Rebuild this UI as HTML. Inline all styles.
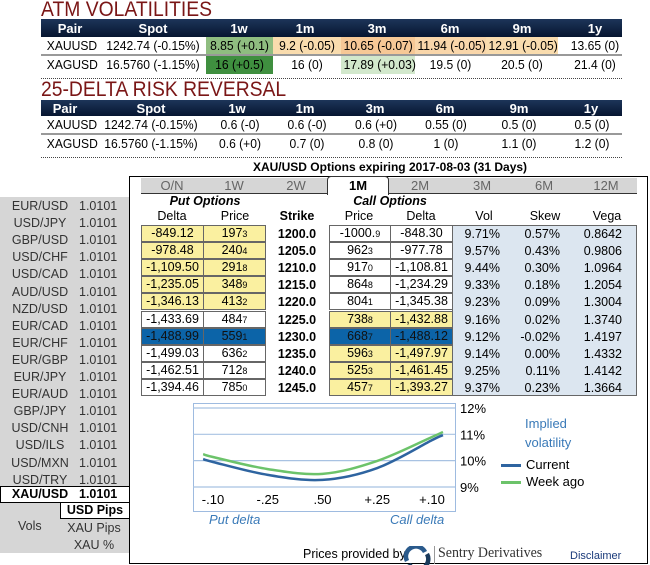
<!DOCTYPE html>
<html><head><meta charset="utf-8">
<style>
*{box-sizing:border-box;margin:0;padding:0}
body{width:650px;height:565px;overflow:hidden;background:#fff;font-family:"Liberation Sans",Arial,sans-serif;position:relative;color:#000}
.abs{position:absolute}
.title{position:absolute;left:41px;font-size:21px;color:#7a1616;line-height:20px;transform:scaleX(0.92);transform-origin:left top;white-space:nowrap}
.hdr{position:absolute;left:41px;width:581px;background:linear-gradient(#1d3559,#061530);color:#fff;font-weight:bold;font-size:13px}
.c{position:absolute;text-align:center;white-space:nowrap}
.row .c{transform:scaleX(0.93)}
.row{position:absolute;left:41px;width:581px;font-size:13px;border-bottom:2px solid #999}
.dots{position:absolute;left:41px;width:581px;border-top:1px dotted #444}
.side{position:absolute;left:0;top:197px;width:129px;height:356px;background:#d6d6d6}
.sr{position:absolute;font-size:12.5px;color:#333;white-space:nowrap;height:17px}
.sr span{position:absolute;top:0}
.cell{position:absolute;height:17px;border:1px solid #666;font-size:12.5px;text-align:center;line-height:15px}
.y{background:#faf0a0}
.sel{background:#0c64a8;color:#111}
.sm{font-size:9px}
</style></head><body>

<div class="title" style="top:0">ATM VOLATILITIES</div>
<div class="hdr" style="top:19px;height:18px">
 <span class="c" style="left:9px;width:40px;top:2px">Pair</span><span class="c" style="left:87px;width:50px;top:2px">Spot</span><span class="c" style="left:178px;width:40px;top:2px">1w</span><span class="c" style="left:244px;width:40px;top:2px">1m</span><span class="c" style="left:316px;width:40px;top:2px">3m</span><span class="c" style="left:389px;width:40px;top:2px">6m</span><span class="c" style="left:461px;width:40px;top:2px">9m</span><span class="c" style="left:534px;width:40px;top:2px">1y</span>
</div>
<div class="row" style="top:37px;height:19px">
 <div class="abs" style="left:165px;width:67px;height:17px;background:#8fbd80"></div>
 <div class="abs" style="left:232px;width:68px;height:17px;background:#f9dcae"></div>
 <div class="abs" style="left:300px;width:74px;height:17px;background:#f6c896"></div>
 <div class="abs" style="left:374px;width:71px;height:17px;background:#f9d6aa"></div>
 <div class="abs" style="left:445px;width:72px;height:17px;background:#f9dcae"></div>
 <span class="c" style="left:4px;width:50px;top:1px">XAUUSD</span><span class="c" style="left:60px;width:104px;top:1px">1242.74 (-0.15%)</span><span class="c" style="left:165px;width:67px;top:1px">8.85 (+0.1)</span><span class="c" style="left:232px;width:68px;top:1px">9.2 (-0.05)</span><span class="c" style="left:300px;width:74px;top:1px">10.65 (-0.07)</span><span class="c" style="left:374px;width:71px;top:1px">11.94 (-0.05)</span><span class="c" style="left:445px;width:72px;top:1px">12.91 (-0.05)</span><span class="c" style="left:520px;width:68px;top:1px">13.65 (0)</span>
</div>
<div class="row" style="top:56px;height:18px;border:none">
 <div class="abs" style="left:165px;width:67px;height:18px;background:#3f8f3f"></div>
 <div class="abs" style="left:300px;width:74px;height:18px;background:#d2e8cc"></div>
 <span class="c" style="left:4px;width:50px;top:1px">XAGUSD</span><span class="c" style="left:60px;width:104px;top:1px">16.5760 (-1.15%)</span><span class="c" style="left:165px;width:67px;top:1px">16 (+0.5)</span><span class="c" style="left:232px;width:68px;top:1px">16 (0)</span><span class="c" style="left:300px;width:74px;top:1px">17.89 (+0.03)</span><span class="c" style="left:374px;width:71px;top:1px">19.5 (0)</span><span class="c" style="left:445px;width:72px;top:1px">20.5 (0)</span><span class="c" style="left:520px;width:68px;top:1px">21.4 (0)</span>
</div>
<div class="dots" style="top:78px"></div>

<div class="title" style="top:80px">25-DELTA RISK REVERSAL</div>
<div class="hdr" style="top:100px;height:16px">
 <span class="c" style="left:4px;width:40px;top:1px">Pair</span><span class="c" style="left:85px;width:50px;top:1px">Spot</span><span class="c" style="left:176px;width:40px;top:1px">1w</span><span class="c" style="left:244px;width:40px;top:1px">1m</span><span class="c" style="left:314px;width:40px;top:1px">3m</span><span class="c" style="left:384px;width:40px;top:1px">6m</span><span class="c" style="left:458px;width:40px;top:1px">9m</span><span class="c" style="left:530px;width:40px;top:1px">1y</span>
</div>
<div class="row" style="top:116px;height:19px">
 <span class="c" style="left:4px;width:50px;top:1px">XAUUSD</span><span class="c" style="left:58px;width:104px;top:1px">1242.74 (-0.15%)</span><span class="c" style="left:169px;width:60px;top:1px">0.6 (-0)</span><span class="c" style="left:236px;width:60px;top:1px">0.6 (-0)</span><span class="c" style="left:305px;width:60px;top:1px">0.6 (+0)</span><span class="c" style="left:375px;width:60px;top:1px">0.55 (0)</span><span class="c" style="left:448px;width:60px;top:1px">0.5 (0)</span><span class="c" style="left:521px;width:60px;top:1px">0.5 (0)</span>
</div>
<div class="row" style="top:135px;height:18px;border:none">
 <span class="c" style="left:4px;width:50px;top:1px">XAGUSD</span><span class="c" style="left:58px;width:104px;top:1px">16.5760 (-1.15%)</span><span class="c" style="left:169px;width:60px;top:1px">0.6 (+0)</span><span class="c" style="left:236px;width:60px;top:1px">0.7 (0)</span><span class="c" style="left:305px;width:60px;top:1px">0.8 (0)</span><span class="c" style="left:375px;width:60px;top:1px">1 (0)</span><span class="c" style="left:448px;width:60px;top:1px">1.1 (0)</span><span class="c" style="left:521px;width:60px;top:1px">1.2 (0)</span>
</div>
<div class="dots" style="top:157px"></div>

<div class="c" style="left:200px;width:380px;top:160px;font-size:12px;font-weight:bold">XAU/USD Options expiring 2017-08-03 (31 Days)</div>

<div class="side"></div>
<div id="sidebar"></div>

<div class="abs" style="left:129px;top:176px;width:519px;height:388px;border:1.5px solid #000"></div>
<div class="abs" style="left:141px;top:178px;width:496px;height:16px;background:#d6d6d6;border-bottom:1px solid #333"></div>
<div class="abs" style="left:327px;top:176px;width:62px;height:19px;background:#fff;border:1px solid #333;border-bottom:none;border-radius:4px 4px 0 0"></div>
<div id="tabs"></div>

<div class="c" style="left:150px;width:110px;top:194px;font-size:12.5px;font-weight:bold;font-style:italic">Put Options</div>
<div class="c" style="left:335px;width:110px;top:194px;font-size:12.5px;font-weight:bold;font-style:italic">Call Options</div>
<div id="colhdr"></div>
<div class="abs" style="left:452px;top:225px;width:185px;height:171px;background:#dce6f0;border:1px solid #666"></div>
<div id="opt"></div>

<svg class="abs" style="left:180px;top:398px" width="330" height="130" id="chart"></svg>

<div class="abs" style="left:525px;top:414px;font-size:13px;color:#3a7ab8;line-height:19px">Implied<br>volatility</div>
<div class="abs" style="left:501px;top:464px;width:20px;height:3px;background:#2e64a0"></div>
<div class="abs" style="left:526px;top:457px;font-size:13px">Current</div>
<div class="abs" style="left:501px;top:481px;width:20px;height:3px;background:#6cc36a"></div>
<div class="abs" style="left:526px;top:474px;font-size:13px">Week ago</div>

<div class="abs" style="left:303px;top:547px;font-size:12.5px;white-space:nowrap">Prices provided by</div>
<svg class="abs" style="left:403px;top:546px" width="28" height="19"><path d="M4 15 A10 10 0 0 1 22 6" stroke="#2a5a8c" stroke-width="4.5" fill="none"/><path d="M24 8 A10 10 0 0 1 6 18" stroke="#1a3a5c" stroke-width="4.5" fill="none"/></svg>
<div class="abs" style="left:434px;top:546px;width:1px;height:18px;background:#999"></div>
<div class="abs" style="left:438px;top:545px;font-family:'Liberation Serif',serif;font-size:15px;color:#333;white-space:nowrap;transform:scaleX(0.93);transform-origin:left top">Sentry Derivatives</div>
<div class="abs" style="left:570px;top:550px;font-size:11px;color:#1a3a7a">Disclaimer</div>

<script>
const tabs=["O/N","1W","2W","1M","2M","3M","6M","12M"];
const pairs=["EUR/USD","USD/JPY","GBP/USD","USD/CHF","USD/CAD","AUD/USD","NZD/USD","EUR/CAD","EUR/CHF","EUR/GBP","EUR/JPY","EUR/AUD","GBP/JPY","USD/CNH","USD/ILS","USD/MXN","USD/TRY"];
const strikes=["1200.0","1205.0","1210.0","1215.0","1220.0","1225.0","1230.0","1235.0","1240.0","1245.0"];
const putDelta=["-849.12","-978.48","-1,109.50","-1,235.05","-1,346.13","-1,433.69","-1,488.99","-1,499.03","-1,462.51","-1,394.46"];
const putPrice=[["197","3"],["240","4"],["291","8"],["348","9"],["413","2"],["484","7"],["559","1"],["636","2"],["712","8"],["785","0"]];
const callPrice=[["-1000.","9"],["962","3"],["917","0"],["864","8"],["804","1"],["738","8"],["668","7"],["596","3"],["525","3"],["457","7"]];
const callDelta=["-848.30","-977.78","-1,108.81","-1,234.29","-1,345.38","-1,432.88","-1,488.12","-1,497.97","-1,461.45","-1,393.27"];
const vols=["9.71%","9.57%","9.44%","9.33%","9.23%","9.16%","9.12%","9.14%","9.25%","9.37%"];
const skews=["0.57%","0.43%","0.30%","0.18%","0.09%","0.02%","-0.02%","0.00%","0.11%","0.23%"];
const vegas=["0.8642","0.9806","1.0964","1.2054","1.3004","1.3740","1.4197","1.4332","1.4142","1.3664"];
const deltaLabels=["-.10","-.25",".50","+.25","+.10"];
const smileX=[-0.18,0,1,2,3,4,4.2];
const currentVol=[10.06,9.95,9.46,9.27,9.72,10.78,10.97];
const weekAgoVol=[10.25,10.14,9.68,9.5,9.99,10.9,11.09];
const volTicks=[12,11,10,9];

function mk(tag,parent,css,text){const e=document.createElement(tag);if(css)e.style.cssText=css;if(text!==undefined)e.textContent=text;parent.appendChild(e);return e;}
const sb=document.getElementById('sidebar');
pairs.forEach((p,i)=>{const e=mk('div',sb,'left:0;top:'+(199+i*17.1)+'px;width:129px','');e.className='sr';
e.innerHTML='<span style="left:8px;width:64px;text-align:center">'+p+'</span><span style="left:79px">1.0101</span>';

});
const xb=mk('div',sb,'position:absolute;left:0;top:486px;width:130px;height:17px;background:#fff;border:1px solid #000;font-size:12.5px;font-weight:bold;line-height:15px;white-space:nowrap','');
xb.innerHTML='<span style="display:inline-block;width:78px;text-align:center">XAU/USD</span>1.0101';


const ub=mk('div',sb,'position:absolute;left:60px;top:502px;width:70px;height:17px;background:#fff;border:1px solid #000;font-size:12.5px;font-weight:bold;text-align:center;line-height:15px;white-space:nowrap','USD Pips');


const v=mk('div',sb,'position:absolute;left:18px;top:519px;font-size:12.5px;color:#333','Vols');


const xp=mk('div',sb,'position:absolute;left:60px;top:521px;width:68px;text-align:center;font-size:12.5px;color:#333;white-space:nowrap','XAU Pips');


const xpc=mk('div',sb,'position:absolute;left:60px;top:538px;width:68px;text-align:center;font-size:12.5px;color:#333','XAU %');



const tb=document.getElementById('tabs');
tabs.forEach((t,i)=>{const e=mk('div',tb,'position:absolute;left:'+(141+i*62)+'px;width:62px;top:178px;text-align:center;font-size:13px;color:'+(t==='1M'?'#000;font-weight:bold':'#666'),t);

});

const ch=document.getElementById('colhdr');
const hd=[["Delta",172],["Price",235],["Strike",297],["Price",359],["Delta",421],["Vol",484],["Skew",545],["Vega",607]];
hd.forEach((h,i)=>{const e=mk('div',ch,'position:absolute;left:'+(h[1]-30)+'px;width:60px;top:209px;text-align:center;font-size:12.5px;'+(i==2?'font-weight:bold':''),h[0]);

});

const op=document.getElementById('opt');
strikes.forEach((s,i)=>{const top=225+i*17.1;
 const putY=i<5, callY=i>=5&&i!=6, sel=i==6;
 const cls=sel?'cell sel':'cell';
 const a=mk('div',op,'left:141px;top:'+top+'px;width:63px',putDelta[i]);a.className=cls+(putY?' y':'');
 
 
 const b=mk('div',op,'left:203px;top:'+top+'px;width:63px','');b.className=cls+(putY?' y':'');b.innerHTML=putPrice[i][0]+'<span class="sm">'+putPrice[i][1]+'</span>';
 
 
 const k=mk('div',op,'position:absolute;left:267px;width:60px;top:'+(top+2)+'px;text-align:center;font-size:12.5px;font-weight:bold',s);
 
 
 const c=mk('div',op,'left:329px;top:'+top+'px;width:62px','');c.className=cls+(callY?' y':'');c.innerHTML=callPrice[i][0]+'<span class="sm">'+callPrice[i][1]+'</span>';
 
 
 const d=mk('div',op,'left:390px;top:'+top+'px;width:63px',callDelta[i]);d.className=cls+(callY?' y':'');
 
 
 [[vols[i],500],[skews[i],560],[vegas[i],622]].forEach((g,j)=>{const e=mk('div',op,'position:absolute;left:'+(g[1]-60)+'px;width:60px;top:'+(top+2)+'px;text-align:right;font-size:12.5px',g[0]);
  
  });
});

// chart: svg origin at page (180,398)
const svg=document.getElementById('chart');const NS='http://www.w3.org/2000/svg';
function sv(t,a){const e=document.createElementNS(NS,t);for(const k in a)e.setAttribute(k,a[k]);svg.appendChild(e);return e;}
const OX=180, OY=398;
const xS=p=>213-OX+p*54.75;
const yS=val=>408-OY+(12-val)*26.33;
sv('rect',{x:193-OX+0.5,y:403-OY+0.5,width:262,height:108,fill:'#fff',stroke:'#9ebbe0','stroke-width':1});
volTicks.forEach(t=>{const l=sv('line',{x1:193-OX,x2:455-OX,y1:yS(t),y2:yS(t),stroke:'#a8c2e2','stroke-width':1.2});
 
 
 const tx=sv('text',{x:460-OX,y:yS(t)+5,'font-size':13,'font-family':'Liberation Sans, sans-serif'});tx.textContent=t+'%';
 
 });
deltaLabels.forEach((d,i)=>{const tx=sv('text',{x:xS(i),y:504-OY,'font-size':13,'text-anchor':'middle','font-family':'Liberation Sans, sans-serif'});tx.textContent=d;
 
 });
function curve(vals){const pts=smileX.map((x,i)=>[xS(x),yS(vals[i])]);let d='M'+pts[0][0]+','+pts[0][1];
 for(let i=0;i<pts.length-1;i++){const p0=pts[Math.max(0,i-1)],p1=pts[i],p2=pts[i+1],p3=pts[Math.min(pts.length-1,i+2)];
  d+=' C'+(p1[0]+(p2[0]-p0[0])/6)+','+(p1[1]+(p2[1]-p0[1])/6)+' '+(p2[0]-(p3[0]-p1[0])/6)+','+(p2[1]-(p3[1]-p1[1])/6)+' '+p2[0]+','+p2[1];}
 return d;}
const w=sv('path',{d:curve(weekAgoVol),stroke:'#6cc36a','stroke-width':2.5,fill:'none'});


const cu=sv('path',{d:curve(currentVol),stroke:'#2e64a0','stroke-width':2.5,fill:'none'});


const pd=sv('text',{x:209-OX,y:524-OY,'font-size':13,'font-style':'italic',fill:'#3a7ab8','font-family':'Liberation Sans, sans-serif'});pd.textContent='Put delta';


const cd=sv('text',{x:390-OX,y:524-OY,'font-size':13,'font-style':'italic',fill:'#3a7ab8','font-family':'Liberation Sans, sans-serif'});cd.textContent='Call delta';


</script>
</body></html>
